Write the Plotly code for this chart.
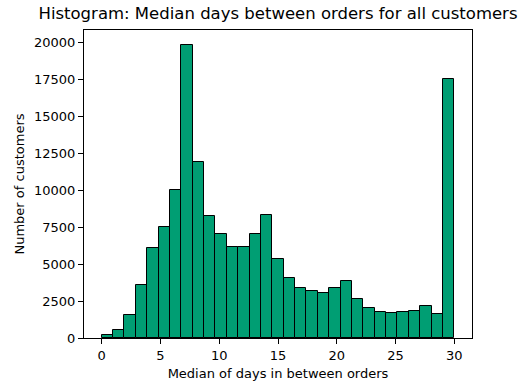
import numpy as np
import plotly.graph_objects as go

# Histogram counts (31 bins spanning 0..30 days)
bin_start = 0.0
bin_end = 30.0
counts = [170, 540, 1550, 3570, 6070, 7480, 10020, 19820, 11870, 8230,
          7010, 6140, 6140, 7010, 8290, 5330, 4050, 3370, 3150, 3030,
          3370, 3820, 2630, 2020, 1750, 1690, 1750, 1800, 2140, 1620, 17530]
y_ticks = [0, 2500, 5000, 7500, 10000, 12500, 15000, 17500, 20000]
x_ticks = [0, 5, 10, 15, 20, 25, 30]

n_bins = len(counts)
edges = np.linspace(bin_start, bin_end, n_bins + 1)
centers = (edges[:-1] + edges[1:]) / 2
width = edges[1] - edges[0]

fig = go.Figure(go.Bar(
    x=centers, y=counts, width=[width] * n_bins,
    marker=dict(color="#009E73", line=dict(color="black", width=1)),
))

font = "DejaVu Sans"
axis_common = dict(showline=True, linecolor="black", linewidth=1, mirror=True,
                   ticks="outside", ticklen=5, tickwidth=1, tickcolor="black",
                   showgrid=False, zeroline=False,
                   tickfont=dict(family=font, size=13, color="black"))

fig.update_layout(
    width=529, height=391,
    margin=dict(l=84, r=57, t=30, b=53),
    paper_bgcolor="white", plot_bgcolor="white",
    showlegend=False, bargap=0,
    title=dict(text="Histogram: Median days between orders for all customers",
               x=0.5, xref="paper", xanchor="center", y=0.981, yanchor="top",
               font=dict(family=font, size=16.5, color="black")),
    xaxis=dict(range=[-1.5, 31.5], tickvals=x_ticks,
               title=dict(text="Median of days in between orders", standoff=7,
                          font=dict(family=font, size=13, color="black")),
               **axis_common),
    yaxis=dict(range=[0, 20811], tickvals=y_ticks,
               tickformat="d",
               title=dict(text="Number of customers", standoff=6,
                          font=dict(family=font, size=13, color="black")),
               **axis_common),
)

fig.write_html("out.html", config={"displayModeBar": False},
               post_script="document.body.style.margin='0';document.body.style.overflow='hidden';")
